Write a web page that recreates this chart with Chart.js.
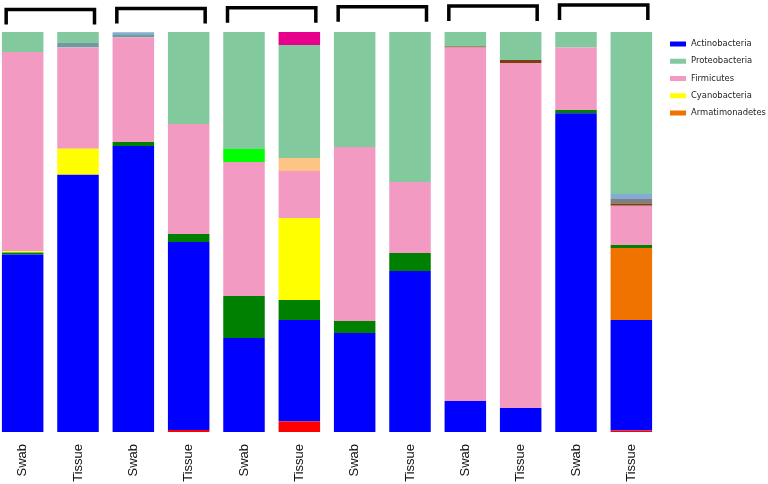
<!DOCTYPE html>
<html>
<head>
<meta charset="utf-8">
<script src="https://cdn.jsdelivr.net/npm/chart.js@4/dist/chart.umd.min.js"></script>
<style>
  html, body { margin: 0; padding: 0; background: #fff; }
  #wrap { position: relative; width: 768px; height: 484px; overflow: hidden; }
  #c { position: absolute; left: -6px; top: 0; }
</style>
</head>
<body>
<div id="wrap"><canvas id="c" width="780" height="484"></canvas></div>
<script>
// ---- data (percent of reads per sample) ----
const categories = ['Swab','Tissue','Swab','Tissue','Swab','Tissue','Swab','Tissue','Swab','Tissue','Swab','Tissue'];
const taxonRed        = [0,    0,    0,    0.5,  0,     2.6,   0,     0,     0,    0,     0,    0.4];
const actinobacteria  = [44.4, 64.3, 71.5, 47.0, 23.5,  25.4,  24.75, 40.25, 7.75, 6.0,   79.7, 27.6];
const armatimonadetes = [0,    0,    0,    0,    0,     0,     0,     0,     0,    0,     0,    18.0];
const taxonDarkGreen  = [0.5,  0,    1.0,  2.0,  10.5,  5.0,   3.0,   4.5,   0,    0,     0.8,  0.75];
const cyanobacteria   = [0.3,  6.5,  0,    0,    0,     20.5,  0,     0,     0,    0,     0,    0];
const firmicutes      = [49.8, 25.4, 26.2, 27.5, 33.5,  11.75, 43.5,  17.75, 88.4, 86.25, 15.6, 9.8];
const taxonLime       = [0,    0,    0,    0,    3.25,  0,     0,     0,     0,    0,     0,    0];
const taxonPeach      = [0,    0,    0,    0,    0,     3.25,  0,     0,     0,    0,     0,    0];
const taxonBrown      = [0,    0,    0,    0,    0,     0,     0,     0,     0.25, 0.75,  0,    0.6];
const taxonGray       = [0,    0,    0,    0,    0,     0,     0,     0,     0,    0,     0,    1.1];
const taxonSteel      = [0,    1.2,  0.75, 0,    0,     0,     0,     0,     0,    0,     0,    0];
const taxonLightBlue  = [0,    0,    0.5,  0,    0,     0,     0,     0,     0,    0,     0,    1.25];
const proteobacteria  = [5.0,  2.7,  0,    23.0, 29.25, 28.25, 28.75, 37.5,  3.6,  7.0,   3.9,  40.5];
const taxonMagenta    = [0,    0,    0,    0,    0,     3.25,  0,     0,     0,    0,     0,    0];

const legendNames = ['Actinobacteria','Proteobacteria','Firmicutes','Cyanobacteria','Armatimonadetes'];

const series = [
  ['Other (red)', taxonRed, '#FF0000'],
  ['Actinobacteria', actinobacteria, '#0000FF'],
  ['Armatimonadetes', armatimonadetes, '#F07300'],
  ['Other (dark green)', taxonDarkGreen, '#008000'],
  ['Cyanobacteria', cyanobacteria, '#FFFF00'],
  ['Firmicutes', firmicutes, '#F39AC2'],
  ['Other (lime)', taxonLime, '#00FF00'],
  ['Other (peach)', taxonPeach, '#FCC585'],
  ['Other (brown)', taxonBrown, '#7B3F10'],
  ['Other (gray)', taxonGray, '#808080'],
  ['Other (steel)', taxonSteel, '#689E9E'],
  ['Other (light blue)', taxonLightBlue, '#84AAD8'],
  ['Proteobacteria', proteobacteria, '#82CA9E'],
  ['Other (magenta)', taxonMagenta, '#E6008C']
];

const datasets = series.map(([label, data, color]) => ({
  label, data, backgroundColor: color, borderWidth: 0,
  categoryPercentage: 1.0, barPercentage: 0.75
}));

const extras = {
  id: 'extras',
  afterDraw(chart) {
    const ctx = chart.ctx;
    const xs = chart.scales.x;
    const OFF = 6; // canvas is shifted 6px left of the page
    // brackets over each Swab/Tissue pair
    ctx.save();
    ctx.strokeStyle = '#000';
    ctx.lineWidth = 3.5;
    ctx.lineJoin = 'miter';
    ctx.lineCap = 'butt';
    for (let p = 0; p < categories.length / 2; p++) {
      const x1 = xs.getPixelForValue(2 * p) - 16.5;
      const x2 = xs.getPixelForValue(2 * p + 1) + 16.5;
      const yTop = 9.5 - 4.5 * p / 5;
      const yBot = yTop + 15;
      ctx.beginPath();
      ctx.moveTo(x1, yBot);
      ctx.lineTo(x1, yTop);
      ctx.lineTo(x2, yTop);
      ctx.lineTo(x2, yBot);
      ctx.stroke();
    }
    // legend
    ctx.font = '8.4px "DejaVu Sans"';
    ctx.textBaseline = 'middle';
    ctx.textAlign = 'left';
    legendNames.forEach((name, i) => {
      const ds = datasets.find(d => d.label === name);
      const y = 44 + i * 17.25;
      ctx.fillStyle = ds.backgroundColor;
      ctx.fillRect(670 + OFF, y - 2.5, 16, 5);
      ctx.fillStyle = '#222';
      ctx.fillText(name, 691 + OFF, y);
    });
    ctx.restore();
  }
};

new Chart(document.getElementById('c'), {
  type: 'bar',
  data: { labels: categories, datasets },
  options: {
    responsive: false,
    animation: false,
    devicePixelRatio: 1,
    layout: { padding: { left: 1, right: 115, top: 32, bottom: 0 } },
    plugins: { legend: { display: false }, tooltip: { enabled: false } },
    scales: {
      x: {
        stacked: true,
        grid: { display: false, drawTicks: false },
        border: { display: false },
        ticks: {
          minRotation: 90, maxRotation: 90, autoSkip: false,
          padding: 12,
          color: '#111',
          font: { family: '"Liberation Sans", Arial, sans-serif', size: 13 }
        },
        afterFit(scale) { scale.height = 52; }
      },
      y: {
        stacked: true, display: false, min: 0, max: 100
      }
    }
  },
  plugins: [extras]
});
</script>
</body>
</html>
